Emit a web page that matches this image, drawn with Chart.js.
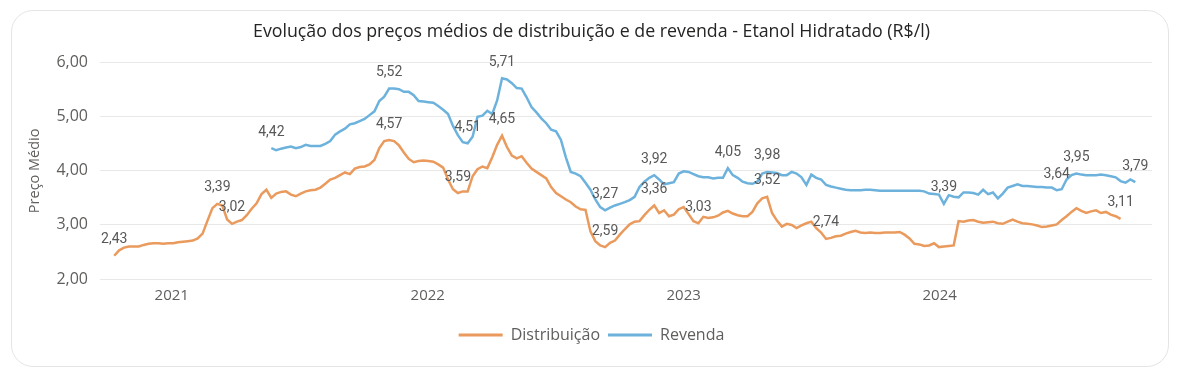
<!DOCTYPE html>
<html lang="pt-BR">
<head>
<meta charset="utf-8">
<title>Etanol Hidratado - preços médios</title>
<script src="https://cdn.jsdelivr.net/npm/chart.js@4.4.1/dist/chart.umd.min.js"></script>
<style>
  html, body { margin: 0; padding: 0; background: #fff; }
  .card {
    position: absolute; left: 11px; top: 10px;
    width: 1156px; height: 355px;
    border: 1.5px solid #e5e5e5; border-radius: 22px;
  }
  #grafico { position: absolute; left: 0; top: 0; }
</style>
</head>
<body>
<div class="card"></div>
<canvas id="grafico" width="1177" height="383"></canvas>
<script>
// --- Dados semanais (semana 0 = 11/10/2020) ---

const inicio = Date.UTC(2020, 9, 11);
const anos = ['2021', '2022', '2023', '2024'];

const distribuicao = [
  2.43, 2.53, 2.58, 2.60, 2.60, 2.60, 2.63, 2.65, 2.66, 2.66,
  2.65, 2.66, 2.66, 2.68, 2.69, 2.70, 2.71, 2.75, 2.84, 3.08,
  3.31, 3.39, 3.36, 3.10, 3.02, 3.06, 3.09, 3.18, 3.30, 3.40,
  3.57, 3.65, 3.50, 3.58, 3.61, 3.62, 3.56, 3.53, 3.58, 3.62,
  3.64, 3.65, 3.69, 3.76, 3.84, 3.87, 3.92, 3.97, 3.94, 4.04,
  4.07, 4.08, 4.12, 4.20, 4.42, 4.55, 4.57, 4.55, 4.47, 4.34,
  4.22, 4.16, 4.18, 4.19, 4.18, 4.17, 4.12, 4.06, 3.84, 3.66,
  3.59, 3.62, 3.62, 3.90, 4.03, 4.08, 4.05, 4.25, 4.48, 4.65,
  4.44, 4.28, 4.23, 4.27, 4.15, 4.04, 3.98, 3.92, 3.86, 3.70,
  3.59, 3.53, 3.47, 3.42, 3.34, 3.29, 3.28, 2.88, 2.70, 2.62,
  2.59, 2.67, 2.71, 2.82, 2.92, 3.01, 3.06, 3.07, 3.18, 3.28,
  3.36, 3.22, 3.27, 3.16, 3.19, 3.29, 3.33, 3.20, 3.07, 3.03,
  3.15, 3.13, 3.14, 3.17, 3.23, 3.26, 3.21, 3.18, 3.16, 3.16,
  3.24, 3.40, 3.49, 3.52, 3.22, 3.08, 2.97, 3.02, 3.00, 2.94,
  2.99, 3.03, 3.06, 2.94, 2.86, 2.74, 2.76, 2.79, 2.80, 2.84,
  2.87, 2.89, 2.86, 2.85, 2.86, 2.85, 2.85, 2.86, 2.86, 2.86,
  2.87, 2.82, 2.75, 2.65, 2.64, 2.61, 2.62, 2.66, 2.59, 2.60,
  2.61, 2.62, 3.07, 3.06, 3.08, 3.09, 3.06, 3.04, 3.05, 3.06,
  3.03, 3.02, 3.06, 3.10, 3.06, 3.03, 3.02, 3.01, 2.99, 2.96,
  2.97, 2.99, 3.01, 3.09, 3.16, 3.24, 3.31, 3.26, 3.22, 3.25,
  3.27, 3.22, 3.24, 3.19, 3.16, 3.11
];

const inicioRevenda = 32; // semana em que a série de revenda começa
const revenda = [
  4.42, 4.38, 4.41, 4.43, 4.45, 4.42, 4.44, 4.48,
  4.46, 4.46, 4.46, 4.50, 4.55, 4.67, 4.73, 4.78, 4.86, 4.88,
  4.92, 4.96, 5.03, 5.10, 5.29, 5.37, 5.52, 5.52, 5.51, 5.46,
  5.46, 5.40, 5.29, 5.28, 5.27, 5.26, 5.20, 5.13, 5.05, 4.83,
  4.66, 4.53, 4.51, 4.63, 5.00, 5.02, 5.11, 5.05, 5.30, 5.71,
  5.69, 5.62, 5.53, 5.52, 5.36, 5.18, 5.08, 4.97, 4.88, 4.76,
  4.73, 4.57, 4.25, 3.98, 3.95, 3.90, 3.78, 3.65, 3.47, 3.33,
  3.27, 3.32, 3.36, 3.39, 3.42, 3.46, 3.52, 3.70, 3.80, 3.87,
  3.92, 3.84, 3.75, 3.77, 3.79, 3.95, 3.99, 3.98, 3.94, 3.90,
  3.88, 3.88, 3.86, 3.87, 3.87, 4.05, 3.92, 3.87, 3.80, 3.77,
  3.76, 3.80, 3.95, 3.98, 3.97, 3.96, 3.92, 3.92, 3.98, 3.95,
  3.88, 3.74, 3.93, 3.87, 3.84, 3.74, 3.71, 3.69, 3.67, 3.65,
  3.64, 3.64, 3.64, 3.65, 3.65, 3.64, 3.63, 3.63, 3.63, 3.63,
  3.63, 3.63, 3.63, 3.63, 3.63, 3.62, 3.58, 3.57, 3.56, 3.39,
  3.55, 3.52, 3.51, 3.60, 3.60, 3.59, 3.56, 3.65, 3.57, 3.60,
  3.49, 3.58, 3.69, 3.72, 3.75, 3.72, 3.72, 3.71, 3.70, 3.70,
  3.69, 3.69, 3.64, 3.66, 3.84, 3.92, 3.95, 3.93, 3.92, 3.92,
  3.92, 3.93, 3.92, 3.90, 3.88, 3.81, 3.78, 3.84, 3.79
];

// semanas que recebem rótulo de valor
const rotulosDistribuicao = [0, 21, 24, 56, 70, 79, 100, 110, 119, 133, 145, 205];
const rotulosRevenda = [32, 56, 72, 79, 100, 110, 125, 133, 169, 192, 196, 208];

// --- Helpers ---

const SEMANA_MS = 7 * 24 * 3600 * 1000;
function semanaDoAno(ano) {
  return (Date.UTC(Number(ano), 0, 1) - inicio) / SEMANA_MS;
}
function formatar(v) {
  return v.toFixed(2).replace('.', ',');
}
function pontos(valores, primeiraSemana) {
  return valores.map((v, i) => ({ x: primeiraSemana + i, y: v }));
}

const rotulosPlugin = {
  id: 'rotulos',
  afterDatasetsDraw(chart) {
    const ctx = chart.ctx;
    ctx.save();
    ctx.font = '14px Roboto';
    ctx.fillStyle = '#585858';
    ctx.textAlign = 'center';
    ctx.textBaseline = 'middle';
    chart.data.datasets.forEach((ds, i) => {
      const meta = chart.getDatasetMeta(i);
      ds.rotulos.forEach(semana => {
        const idx = ds.data.findIndex(p => p.x === semana);
        if (idx < 0) return;
        const el = meta.data[idx];
        ctx.fillText(formatar(ds.data[idx].y), el.x, el.y - 16);
      });
    });
    ctx.restore();
  }
};

const corTexto = '#605e5c';
const fonte = "'Open Sans', 'Noto Sans', sans-serif";

new Chart(document.getElementById('grafico'), {
  type: 'line',
  data: {
    datasets: [
      {
        label: 'Distribuição',
        data: pontos(distribuicao, 0),
        rotulos: rotulosDistribuicao,
        borderColor: '#e99a5c',
        backgroundColor: '#e99a5c',
        borderWidth: 2.5,
        pointRadius: 0,
        tension: 0
      },
      {
        label: 'Revenda',
        data: pontos(revenda, inicioRevenda),
        rotulos: rotulosRevenda,
        borderColor: '#6cb2dc',
        backgroundColor: '#6cb2dc',
        borderWidth: 2.5,
        pointRadius: 0,
        tension: 0
      }
    ]
  },
  options: {
    responsive: false,
    animation: false,
    layout: { padding: { left: 31, right: 25, top: 0, bottom: 30 } },
    plugins: {
      title: {
        display: true,
        text: 'Evolução dos preços médios de distribuição e de revenda - Etanol Hidratado (R$/l)',
        color: '#252423',
        font: { family: fonte, size: 17.8, weight: 'normal' },
        padding: { top: 21, bottom: 20.3 }
      },
      legend: {
        position: 'bottom',
        labels: {
          color: corTexto,
          font: { family: fonte, size: 16 },
          boxWidth: 44,
          boxHeight: 3,
          padding: 8,
          generateLabels(chart) {
            return chart.data.datasets.map((ds, i) => ({
              text: ds.label,
              fillStyle: ds.borderColor,
              strokeStyle: ds.borderColor,
              lineWidth: 0,
              fontColor: corTexto,
              datasetIndex: i
            }));
          }
        }
      },
      tooltip: { enabled: false }
    },
    scales: {
      x: {
        type: 'linear',
        min: -2.9,
        max: 211.4,
        grid: { display: false, drawTicks: false },
        border: { display: false },
        afterBuildTicks(scale) {
          scale.ticks = anos.map(a => ({ value: semanaDoAno(a) }));
        },
        afterFit(scale) { scale.height = 40; },
        ticks: {
          color: corTexto,
          font: { family: fonte, size: 15 },
          padding: 8,
          maxRotation: 0,
          autoSkip: false,
          callback(value) {
            const a = anos.find(ano => Math.abs(semanaDoAno(ano) - value) < 0.01);
            return a || '';
          }
        }
      },
      y: {
        min: 2,
        max: 6,
        grid: { color: '#e8e8e8', lineWidth: 1, drawTicks: false },
        border: { display: false },
        afterFit(scale) { scale.width = 69; },
        ticks: {
          stepSize: 1,
          color: corTexto,
          font: { family: fonte, size: 16 },
          padding: 12,
          callback: v => formatar(v)
        },
        title: {
          display: true,
          text: 'Preço Médio',
          color: corTexto,
          font: { family: fonte, size: 14.5 },
          padding: { top: -4.7, bottom: 0 }
        }
      }
    }
  },
  plugins: [rotulosPlugin]
});
</script>
</body>
</html>
